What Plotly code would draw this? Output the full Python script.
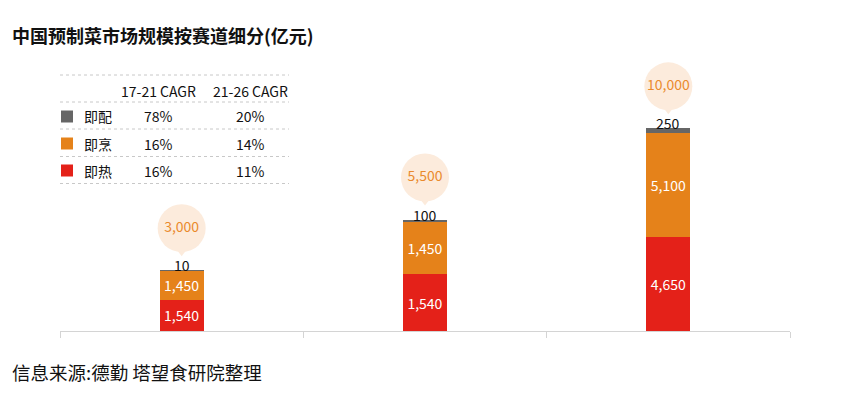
import plotly.graph_objects as go

# ---------------- data ----------------
categories = ["阶段一", "阶段二", "阶段三"]          # not shown on the axis
series_names = ["即热", "即烹", "即配"]              # bottom -> top
series_colors = ["#e42119", "#e5821a", "#666666"]

# segment heights as drawn in the picture
heat_values = [1540, 2810, 4650]
cook_values = [1450, 2560, 5100]
ready_values = [10, 130, 250]

# segment labels as printed in the picture
heat_labels = ["1,540", "1,540", "4,650"]
cook_labels = ["1,450", "1,450", "5,100"]
ready_labels = ["10", "100", "250"]

totals = [3000, 5500, 10000]
total_labels = ["3,000", "5,500", "10,000"]

# legend table
table_header = ["17-21 CAGR", "21-26 CAGR"]
table_names = ["即配", "即烹", "即热"]
table_colors = ["#666666", "#e5821a", "#e42119"]
cagr_17_21 = ["78%", "16%", "16%"]
cagr_21_26 = ["20%", "14%", "11%"]

title_text = "中国预制菜市场规模按赛道细分(亿元)"
source_text = "信息来源:德勤 塔望食研院整理"

# ---------------- layout geometry ----------------
W, H = 850, 408
OFF = 8  # page body margin
L, R, T, B = 60 - OFF, 790 - OFF, 60 - OFF, 331 - OFF
Y_MAX = 13370
ppu = (B - T) / Y_MAX  # pixels per unit

FONT = "Noto Sans CJK SC"
xs = list(range(len(categories)))


def px(x):
    return (x - OFF - L) / (R - L)


def py(y):
    return (B - (y - OFF)) / (B - T)


fig = go.Figure()

for vals, labs, col in [
    (heat_values, heat_labels, series_colors[0]),
    (cook_values, cook_labels, series_colors[1]),
]:
    fig.add_trace(go.Bar(
        x=xs, y=vals, marker=dict(color=col, line=dict(width=0)), width=0.18,
        text=labs, textposition="inside", insidetextanchor="middle",
        constraintext="none", textfont=dict(color="white", size=14, family=FONT),
        hoverinfo="skip", showlegend=False,
    ))
fig.add_trace(go.Bar(
    x=xs, y=ready_values, marker=dict(color=series_colors[2], line=dict(width=0)),
    width=0.18, hoverinfo="skip", showlegend=False,
))

# bubbles (circle + pointer)
fig.add_trace(go.Scatter(
    x=xs, y=[t + 21 / ppu for t in totals], mode="markers",
    marker=dict(symbol="triangle-down", size=14, color="#fcebdc", line=dict(width=0)),
    hoverinfo="skip", showlegend=False,
))
fig.add_trace(go.Scatter(
    x=xs, y=[t + 42 / ppu for t in totals], mode="markers+text",
    marker=dict(symbol="circle", size=48, color="#fcebdc", line=dict(width=0)),
    text=total_labels, textposition="middle center",
    textfont=dict(color="#ea8a2c", size=14, family=FONT),
    hoverinfo="skip", showlegend=False,
))

annotations = []
# labels of the top (gray) segment
for i, t in enumerate(totals):
    annotations.append(dict(
        x=xs[i], y=t, xref="x", yref="y", text=ready_labels[i], showarrow=False,
        yanchor="middle", yshift=5, font=dict(size=14, color="#111111", family=FONT),
    ))

# title and source
annotations.append(dict(
    x=px(10), y=py(35), xref="paper", yref="paper", text="<b>" + title_text + "</b>",
    showarrow=False, xanchor="left", yanchor="middle",
    font=dict(size=18, color="#111111", family=FONT),
))
annotations.append(dict(
    x=px(10), y=py(372), xref="paper", yref="paper", text=source_text,
    showarrow=False, xanchor="left", yanchor="middle",
    font=dict(size=18.5, color="#111111", family=FONT),
))

# legend table
col_x = [158, 250]
header_y = 90.5
row_y = [116.5, 143.5, 170.5]
for j, h in enumerate(table_header):
    annotations.append(dict(
        x=px(col_x[j]), y=py(header_y), xref="paper", yref="paper", text=h,
        showarrow=False, xanchor="center", yanchor="middle",
        font=dict(size=14, color="#111111", family=FONT),
    ))
shapes = []
for k, name in enumerate(table_names):
    yy = row_y[k]
    annotations.append(dict(
        x=px(97.5), y=py(yy), xref="paper", yref="paper", text=name,
        showarrow=False, xanchor="center", yanchor="middle",
        font=dict(size=14, color="#111111", family=FONT),
    ))
    for j, v in enumerate([cagr_17_21[k], cagr_21_26[k]]):
        annotations.append(dict(
            x=px(col_x[j]), y=py(yy), xref="paper", yref="paper", text=v,
            showarrow=False, xanchor="center", yanchor="middle",
            font=dict(size=14, color="#111111", family=FONT),
        ))
    shapes.append(dict(
        type="rect", xref="paper", yref="paper",
        x0=px(61), x1=px(73), y0=py(yy + 6), y1=py(yy - 6),
        fillcolor=table_colors[k], line=dict(width=0), layer="above",
    ))
for ly in [75, 102, 129, 156.5, 183.5]:
    shapes.append(dict(
        type="line", xref="paper", yref="paper",
        x0=px(60), x1=px(289), y0=py(ly), y1=py(ly),
        line=dict(color="#c8c8c8", width=1, dash="dot"),
    ))

fig.update_layout(
    width=W, height=H, barmode="stack",
    margin=dict(l=L, r=W - R, t=T, b=H - B, pad=0),
    paper_bgcolor="white", plot_bgcolor="white",
    font=dict(family=FONT),
    annotations=annotations, shapes=shapes,
    xaxis=dict(
        range=[-0.5, len(categories) - 0.5], showgrid=False, zeroline=False,
        showline=True, linecolor="#d4d4d4", linewidth=1,
        tickmode="array", tickvals=[i - 0.5 for i in range(len(categories) + 1)],
        ticktext=[""] * (len(categories) + 1),
        ticks="outside", ticklen=6, tickcolor="#d4d4d4", tickwidth=1,
        fixedrange=True,
    ),
    yaxis=dict(range=[0, Y_MAX], visible=False, showgrid=False, zeroline=False,
               fixedrange=True),
)

fig.write_html("out.html", config={"displayModeBar": False})
